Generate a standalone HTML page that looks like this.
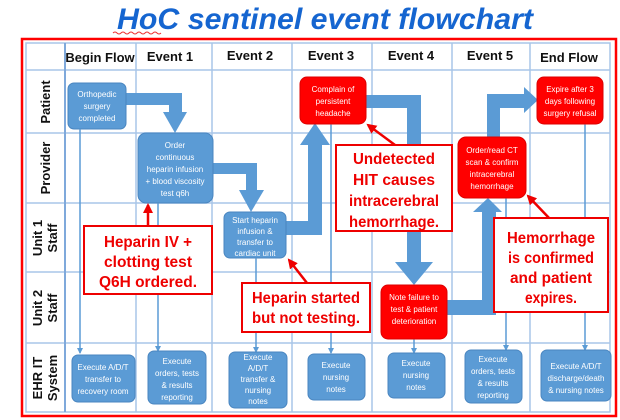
<!DOCTYPE html>
<html><head><meta charset="utf-8"><style>
html,body{margin:0;padding:0;background:#fff;}
svg{display:block;font-family:"Liberation Sans",sans-serif;}
</style></head><body>
<svg width="620" height="420" viewBox="0 0 620 420" xmlns="http://www.w3.org/2000/svg">
<defs>
<marker id="ba" markerWidth="6" markerHeight="6" refX="5" refY="3" orient="auto" markerUnits="userSpaceOnUse"><path d="M0,0 L6,3 L0,6 z" fill="#5b9bd5"/></marker>
<marker id="ra" markerWidth="10" markerHeight="10" refX="8" refY="5" orient="auto" markerUnits="userSpaceOnUse"><path d="M0,0 L10,5 L0,10 z" fill="#e00"/></marker>
</defs>
<!-- title -->
<text x="117" y="29" font-size="30" font-weight="bold" font-style="italic" fill="#1565d0" textLength="416" lengthAdjust="spacingAndGlyphs">HoC sentinel event flowchart</text>
<path d="M113,33 q2,-2 4,0 t4,0 t4,0 t4,0 t4,0 t4,0 t4,0 t4,0 t4,0 t4,0 t4,0 t4,0" stroke="#e33" stroke-width="1" fill="none"/>
<!-- outer border -->
<rect x="22" y="39" width="594" height="377" fill="#fff" stroke="#f00" stroke-width="2.5"/>
<!-- grid -->
<g stroke="#a9c5e8" stroke-width="1.5" fill="none">
<rect x="26" y="43" width="584" height="369"/>
<line x1="26" y1="70" x2="610" y2="70"/>
<line x1="26" y1="133" x2="610" y2="133"/>
<line x1="26" y1="203" x2="610" y2="203"/>
<line x1="26" y1="272" x2="610" y2="272"/>
<line x1="26" y1="343" x2="610" y2="343"/>
<line x1="136" y1="43" x2="136" y2="412"/>
<line x1="212" y1="43" x2="212" y2="412"/>
<line x1="292" y1="43" x2="292" y2="412"/>
<line x1="372" y1="43" x2="372" y2="412"/>
<line x1="452" y1="43" x2="452" y2="412"/>
<line x1="530" y1="43" x2="530" y2="412"/>
</g>
<line x1="65" y1="43" x2="65" y2="412" stroke="#7fa9db" stroke-width="2"/>
<!-- headers -->
<g font-size="13" font-weight="bold" fill="#111" text-anchor="middle">
<text x="100" y="62">Begin Flow</text>
<text x="170" y="61">Event 1</text>
<text x="250" y="60">Event 2</text>
<text x="331" y="60">Event 3</text>
<text x="411" y="60">Event 4</text>
<text x="490" y="60">Event 5</text>
<text x="569" y="62">End Flow</text>
</g>
<g font-size="13" font-weight="bold" fill="#111" text-anchor="middle">
<text transform="translate(50,102) rotate(-90)">Patient</text>
<text transform="translate(50,168) rotate(-90)">Provider</text>
<text transform="translate(42,238) rotate(-90)">Unit 1</text>
<text transform="translate(57,238) rotate(-90)">Staff</text>
<text transform="translate(42,308) rotate(-90)">Unit 2</text>
<text transform="translate(57,308) rotate(-90)">Staff</text>
<text transform="translate(42,378) rotate(-90)">EHR IT</text>
<text transform="translate(57,378) rotate(-90)">System</text>
</g>
<!-- thin connectors -->
<g stroke="#5b9bd5" stroke-width="1.5" marker-start="url(#ba)" marker-end="url(#ba)">
<line x1="80" y1="130" x2="80" y2="353"/>
<line x1="158" y1="204" x2="158" y2="351"/>
<line x1="256" y1="259" x2="256" y2="352"/>
<line x1="331" y1="125" x2="331" y2="353"/>
<line x1="414" y1="340" x2="414" y2="353"/>
<line x1="506" y1="199" x2="506" y2="350"/>
<line x1="585" y1="125" x2="585" y2="350"/>
</g>
<!-- thick arrows -->
<g fill="#5b9bd5">
<path d="M126,93 H182 V112 H187 L175,133 L163,112 H169 V105 H126 z"/>
<path d="M213,163 H257 V190 H264 L251,212 L239,190 H246 V174 H213 z"/>
<path d="M286,221 H308 V145 H300 L315,123 L330,145 H322 V235 H286 z"/>
<path d="M366,95 H421 V262 H433 L414,285 L395,262 H407 V108 H366 z"/>
<path d="M447,300 H482 V212 H473 L488,198 L502,212 H496 V315 H447 z"/>
<path d="M487,137 V94 H524 V87 L538,100 L524,113 V108 H500 V137 z"/>
</g>
<!-- nodes -->
<g stroke-width="1">
<rect x="68" y="83" width="58" height="46" rx="6" fill="#5b9bd5" stroke="#4a86c0"/>
<rect x="138" y="133" width="75" height="70" rx="8" fill="#5b9bd5" stroke="#4a86c0"/>
<rect x="224" y="212" width="62" height="46" rx="6" fill="#5b9bd5" stroke="#4a86c0"/>
<rect x="300" y="77" width="66" height="47" rx="7" fill="#f00" stroke="#d00"/>
<rect x="537" y="77" width="66" height="47" rx="7" fill="#f00" stroke="#d00"/>
<rect x="458" y="137" width="68" height="61" rx="8" fill="#f00" stroke="#d00"/>
<rect x="381" y="285" width="66" height="54" rx="7" fill="#f00" stroke="#d00"/>
<rect x="72" y="355" width="63" height="47" rx="6" fill="#5b9bd5" stroke="#4a86c0"/>
<rect x="148" y="351" width="58" height="53" rx="6" fill="#5b9bd5" stroke="#4a86c0"/>
<rect x="229" y="352" width="58" height="56" rx="6" fill="#5b9bd5" stroke="#4a86c0"/>
<rect x="308" y="354" width="57" height="46" rx="6" fill="#5b9bd5" stroke="#4a86c0"/>
<rect x="388" y="353" width="57" height="45" rx="6" fill="#5b9bd5" stroke="#4a86c0"/>
<rect x="465" y="350" width="57" height="53" rx="6" fill="#5b9bd5" stroke="#4a86c0"/>
<rect x="541" y="350" width="70" height="51" rx="6" fill="#5b9bd5" stroke="#4a86c0"/>
</g>
<g font-size="8" fill="#fff" text-anchor="middle">
<text x="97" y="97">Orthopedic</text><text x="97" y="109">surgery</text><text x="97" y="121">completed</text>
<text x="175" y="148">Order</text><text x="175" y="160">continuous</text><text x="175" y="172">heparin infusion</text><text x="175" y="184">+ blood viscosity</text><text x="175" y="196">test q6h</text>
<text x="255" y="223">Start heparin</text><text x="255" y="234">infusion &amp;</text><text x="255" y="245">transfer to</text><text x="255" y="256">cardiac unit</text>
<text x="333" y="92">Complain of</text><text x="333" y="104">persistent</text><text x="333" y="116">headache</text>
<text x="570" y="92">Expire after 3</text><text x="570" y="104">days following</text><text x="570" y="116">surgery refusal</text>
<text x="492" y="153">Order/read CT</text><text x="492" y="165">scan &amp; confirm</text><text x="492" y="177">intracerebral</text><text x="492" y="189">hemorrhage</text>
<text x="414" y="300">Note failure to</text><text x="414" y="312">test &amp; patient</text><text x="414" y="324">deterioration</text>
<text x="103" y="370">Execute A/D/T</text><text x="103" y="382">transfer to</text><text x="103" y="394">recovery room</text>
<text x="177" y="364">Execute</text><text x="177" y="376">orders, tests</text><text x="177" y="388">&amp; results</text><text x="177" y="400">reporting</text>
<text x="258" y="360">Execute</text><text x="258" y="371">A/D/T</text><text x="258" y="382">transfer &amp;</text><text x="258" y="393">nursing</text><text x="258" y="404">notes</text>
<text x="336" y="368">Execute</text><text x="336" y="380">nursing</text><text x="336" y="392">notes</text>
<text x="416" y="366">Execute</text><text x="416" y="378">nursing</text><text x="416" y="390">notes</text>
<text x="493" y="362">Execute</text><text x="493" y="374">orders, tests</text><text x="493" y="386">&amp; results</text><text x="493" y="398">reporting</text>
<text x="576" y="369">Execute A/D/T</text><text x="576" y="381">discharge/death</text><text x="576" y="393">&amp; nursing notes</text>
</g>
<!-- callouts -->
<g stroke="#e00" stroke-width="2.5" marker-end="url(#ra)">
<line x1="148" y1="226" x2="148" y2="205"/>
<line x1="395" y1="145" x2="368" y2="125"/>
<line x1="307" y1="283" x2="289" y2="260"/>
<line x1="550" y1="219" x2="528" y2="196"/>
</g>
<g fill="#fff" stroke="#e00" stroke-width="2">
<rect x="84" y="226" width="128" height="68"/>
<rect x="336" y="145" width="116" height="86"/>
<rect x="242" y="283" width="128" height="49"/>
<rect x="494" y="218" width="114" height="94"/>
</g>
<g font-size="16" font-weight="bold" fill="#e00" text-anchor="middle">
<text x="148" y="247" textLength="88" lengthAdjust="spacingAndGlyphs">Heparin IV +</text>
<text x="148" y="267" textLength="88" lengthAdjust="spacingAndGlyphs">clotting test</text>
<text x="148" y="287" textLength="98" lengthAdjust="spacingAndGlyphs">Q6H ordered.</text>
<text x="394" y="164" textLength="82" lengthAdjust="spacingAndGlyphs">Undetected</text>
<text x="394" y="185" textLength="82" lengthAdjust="spacingAndGlyphs">HIT causes</text>
<text x="394" y="206" textLength="90" lengthAdjust="spacingAndGlyphs">intracerebral</text>
<text x="394" y="227" textLength="90" lengthAdjust="spacingAndGlyphs">hemorrhage.</text>
<text x="306" y="303" textLength="108" lengthAdjust="spacingAndGlyphs">Heparin started</text>
<text x="306" y="323" textLength="108" lengthAdjust="spacingAndGlyphs">but not testing.</text>
<text x="551" y="243" textLength="88" lengthAdjust="spacingAndGlyphs">Hemorrhage</text>
<text x="551" y="263" textLength="86" lengthAdjust="spacingAndGlyphs">is confirmed</text>
<text x="551" y="283" textLength="82" lengthAdjust="spacingAndGlyphs">and patient</text>
<text x="551" y="303" textLength="52" lengthAdjust="spacingAndGlyphs">expires.</text>
</g>
</svg>
</body></html>
